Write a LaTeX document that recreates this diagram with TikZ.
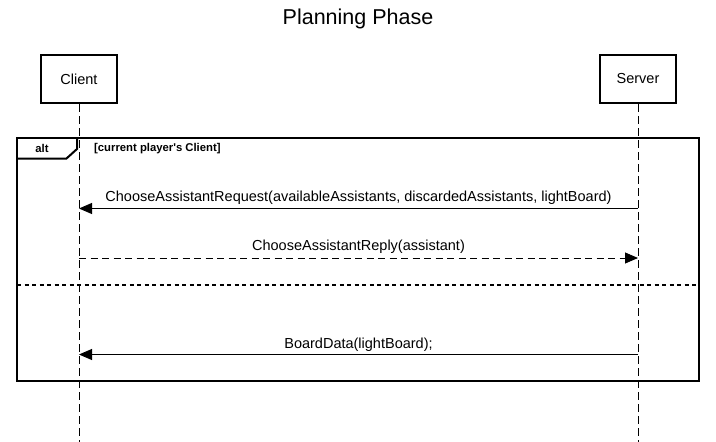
\documentclass[tikz,border=0pt]{standalone}
\usepackage{fontspec}
\setmainfont{Liberation Sans}[Ligatures=TeXOff]
\usetikzlibrary{arrows.meta}
\begin{document}
\begin{tikzpicture}[x=1pt,y=-1pt,
  actor/.style={draw,line width=2pt,minimum width=76pt,minimum height=48pt,inner sep=0pt,font=\fontsize{14.5}{17}\selectfont},
  lifeline/.style={line width=0.9pt,dash pattern=on 8pt off 4pt},
  msg/.style={line width=0.9pt,-{Triangle[length=13pt,width=11pt]}},
  reply/.style={msg,dash pattern=on 7pt off 4.5pt},
  lbl/.style={font=\fontsize{14.5}{17}\selectfont,inner sep=0pt,anchor=base},
  frame/.style={line width=2pt},
  small/.style={font=\bfseries\fontsize{11.3}{13}\selectfont,inner sep=0pt}]
\useasboundingbox (0,0) rectangle (716,442);
\node[font=\fontsize{21.5}{25}\selectfont] (title) at (358,19) {Planning Phase};
\node[actor] (client) at (79,79) {Client};
\node[actor] (server) at (638,79) {Server};
\coordinate (cend) at (79,442);
\coordinate (send) at (638,442);
\draw[lifeline] (client.south) -- (cend);
\draw[lifeline] (server.south) -- (send);
% alt frame
\draw[frame] (17,138) rectangle (699,381);
\draw[frame] (17,158.5) -- (66.5,158.5) -- (77,149) -- (77,138);
\node[small] (alt) at (42,148.5) {alt};
\node[small,anchor=west] (guard) at (94,148.5) {[current player's Client]};
\coordinate (sepL) at (17,284.5);
\coordinate (sepR) at (699,284.5);
\draw[line width=2pt,dash pattern=on 4pt off 3.5pt] (sepL) -- (sepR);
% messages
\coordinate (s1) at (638,208.5);
\coordinate (c1) at (79,208.5);
\draw[msg] (s1) -- (c1);
\node[lbl] (m1) at (358.5,201) {ChooseAssistantRequest(availableAssistants, discardedAssistants, lightBoard)};
\coordinate (c2) at (79,258);
\coordinate (s2) at (638,258);
\draw[reply] (c2) -- (s2);
\node[lbl] (m2) at (358.5,250) {ChooseAssistantReply(assistant)};
\coordinate (s3) at (638,354.5);
\coordinate (c3) at (79,354.5);
\draw[msg] (s3) -- (c3);
\node[lbl] (m3) at (358.5,348) {BoardData(lightBoard);};
\end{tikzpicture}
\end{document}
